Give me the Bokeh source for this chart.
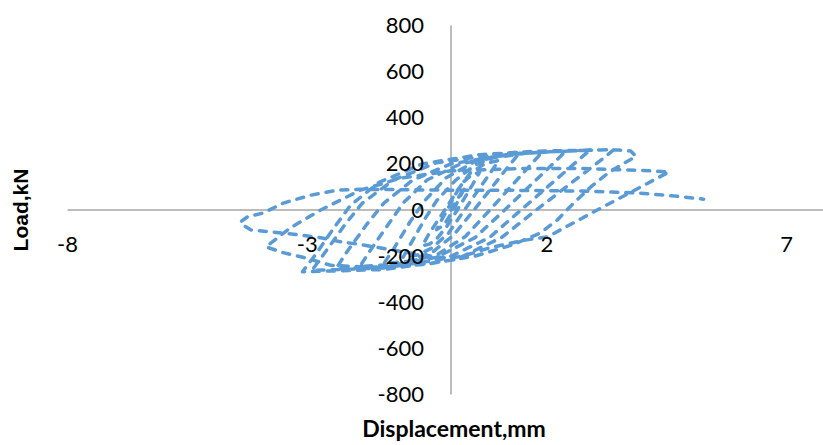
from math import pi
from bokeh.plotting import figure
from bokeh.models import Range1d, Label
from bokeh.embed import file_html
from bokeh.resources import INLINE
from bokeh.core.properties import value

# ---- data (displacement mm, load kN), in time order ----
disp = [
    0.0, 0.1, 0.2, 0.3,
    0.22, 0.05, -0.1, -0.22, -0.3,
    -0.2, -0.08, 0.1, 0.25, 0.42, 0.6,
    0.45, 0.13, -0.1, -0.3, -0.45, -0.6,
    -0.45, -0.13, 0.15, 0.4, 0.7, 1.0,
    0.85, 0.28, -0.05, -0.4, -0.7, -1.0,
    -0.85, -0.55, -0.3, 0.1, 0.5, 0.9, 1.4,
    1.22, 0.48, 0.05, -0.4, -0.9, -1.4,
    -1.2, -0.85, -0.55, -0.1, 0.5, 1.2, 1.9,
    1.7, 0.81, 0.3, -0.3, -1.1, -1.9,
    -1.7, -1.3, -1.0, -0.5, 0.2, 1.2, 2.4,
    2.15, 1.12, 0.5, -0.3, -1.3, -2.4,
    -2.2, -1.75, -1.4, -0.8, 0.0, 1.3, 2.9,
    2.65, 1.46, 0.8, -0.1, -1.4, -2.9,
    -2.65, -2.2, -1.85, -1.2, -0.3, 1.2, 3.4,
    3.15, 1.78, 1.05, 0.1, -1.4, -3.1,
    -2.85, -2.45, -2.1, -1.5, -0.6, 0.6, 1.8, 3.0, 3.5, 3.75, 3.86,
    3.6, 3.27, 2.91, 2.56, 2.22, 1.87, 1.3, 0.5, -0.5, -1.5, -2.5, -3.07, -3.5, -3.86,
    -3.35, -2.72, -1.89, -1.05, 0.0, 1.45, 2.77, 3.96, 4.55,
    3.95, 3.05, 2.02, 1.5, 0.82, 0.34, 0.0, -0.64, -1.26, -1.88, -2.3, -2.72, -3.2,
    -3.75, -4.18, -4.35, -4.39,
    -4.25, -3.92, -3.5, -2.93, -2.37, -1.9, -1.05, 0.0, 1.03, 2.77, 3.96, 4.6, 5.27,
]
load = [
    0, 35, 70, 100,
    70, 0, -50, -75, -85,
    -45, 0, 70, 120, 150, 165,
    110, 0, -75, -125, -148, -155,
    -100, 0, 90, 160, 200, 215,
    170, 0, -100, -165, -195, -205,
    -150, -40, 40, 130, 195, 228, 240,
    195, 0, -110, -185, -222, -232,
    -170, -50, 40, 140, 210, 240, 250,
    205, 0, -115, -195, -235, -245,
    -180, -60, 30, 130, 200, 242, 256,
    205, 0, -120, -205, -245, -255,
    -190, -60, 30, 130, 200, 245, 260,
    215, 0, -120, -210, -252, -262,
    -190, -60, 30, 130, 205, 248, 262,
    220, 0, -120, -215, -258, -268,
    -200, -80, 20, 120, 200, 240, 255, 260, 260, 256, 232,
    202, 159, 99, 30, -43, -99, -150, -200, -235, -250, -240, -206, -185, -160,
    -77, 0, 86, 138, 170, 180, 180, 172, 165,
    99, 0, -116, -132, -163, -194, -210, -194, -172, -150, -138, -120, -107,
    -95, -86, -64, -52,
    -30, -13, 30, 64, 86, 90, 88, 86, 86, 82, 73, 62, 47,
]

x_ticks = [-8, -3, 2, 7]
y_ticks = [-800, -600, -400, -200, 0, 200, 400, 600, 800]
x_title = "Displacement,mm"
y_title = "Load,kN"

# ---- layout (page pixels of the reference) ----
W, H = 823, 445
PX_X = 47.93          # px per mm
PX_Y = 0.230625       # px per kN
X0, Y0 = 450.5, 209.5  # page position of the origin
x_start = (0 - X0) / PX_X
x_end = (W - X0) / PX_X
y_end = (Y0 - 0) / PX_Y
y_start = (Y0 - H) / PX_Y

p = figure(width=W, height=H, x_range=Range1d(x_start, x_end), y_range=Range1d(y_start, y_end),
           x_axis_type=None, y_axis_type=None, toolbar_location=None, output_backend="svg",
           min_border=0, title=None)
p.outline_line_color = None
p.background_fill_color = "white"
p.border_fill_color = "white"

AXIS_COLOR = "#a6a6a6"
p.segment(x0=[x_ticks[0], 0], y0=[0, y_ticks[0]], x1=[x_end, 0], y1=[0, y_ticks[-1]],
          line_color=AXIS_COLOR, line_width=1.5)

p.line(disp, load, line_color="#5b9bd5", line_width=3.5, line_dash="7 8",
       line_cap="round", line_join="round")

TICK_FONT = value("Lato")
p.text(x=x_ticks, y=[-34 / PX_Y] * len(x_ticks), text=[str(t) for t in x_ticks],
       text_font=TICK_FONT, text_font_size="22px", text_align="center",
       text_baseline="middle", text_color="black")
p.text(x=[0] * len(y_ticks), y=y_ticks, text=[str(t) for t in y_ticks], x_offset=-27,
       text_font=TICK_FONT, text_font_size="22px", text_align="right",
       text_baseline="middle", text_color="black")

p.add_layout(Label(x=(20 - X0) / PX_X, y=0, text=y_title, angle=pi / 2,
                   text_font="Liberation Sans", text_font_style="bold", text_font_size="21px",
                   text_align="center", text_baseline="middle", text_color="black"))
p.add_layout(Label(x=(453.5 - X0) / PX_X, y=(Y0 - 427) / PX_Y, text=x_title,
                   text_font="Lato", text_font_style="bold", text_font_size="23px",
                   text_align="center", text_baseline="middle", text_color="black"))

open("out.html", "w").write(file_html(p, INLINE))
